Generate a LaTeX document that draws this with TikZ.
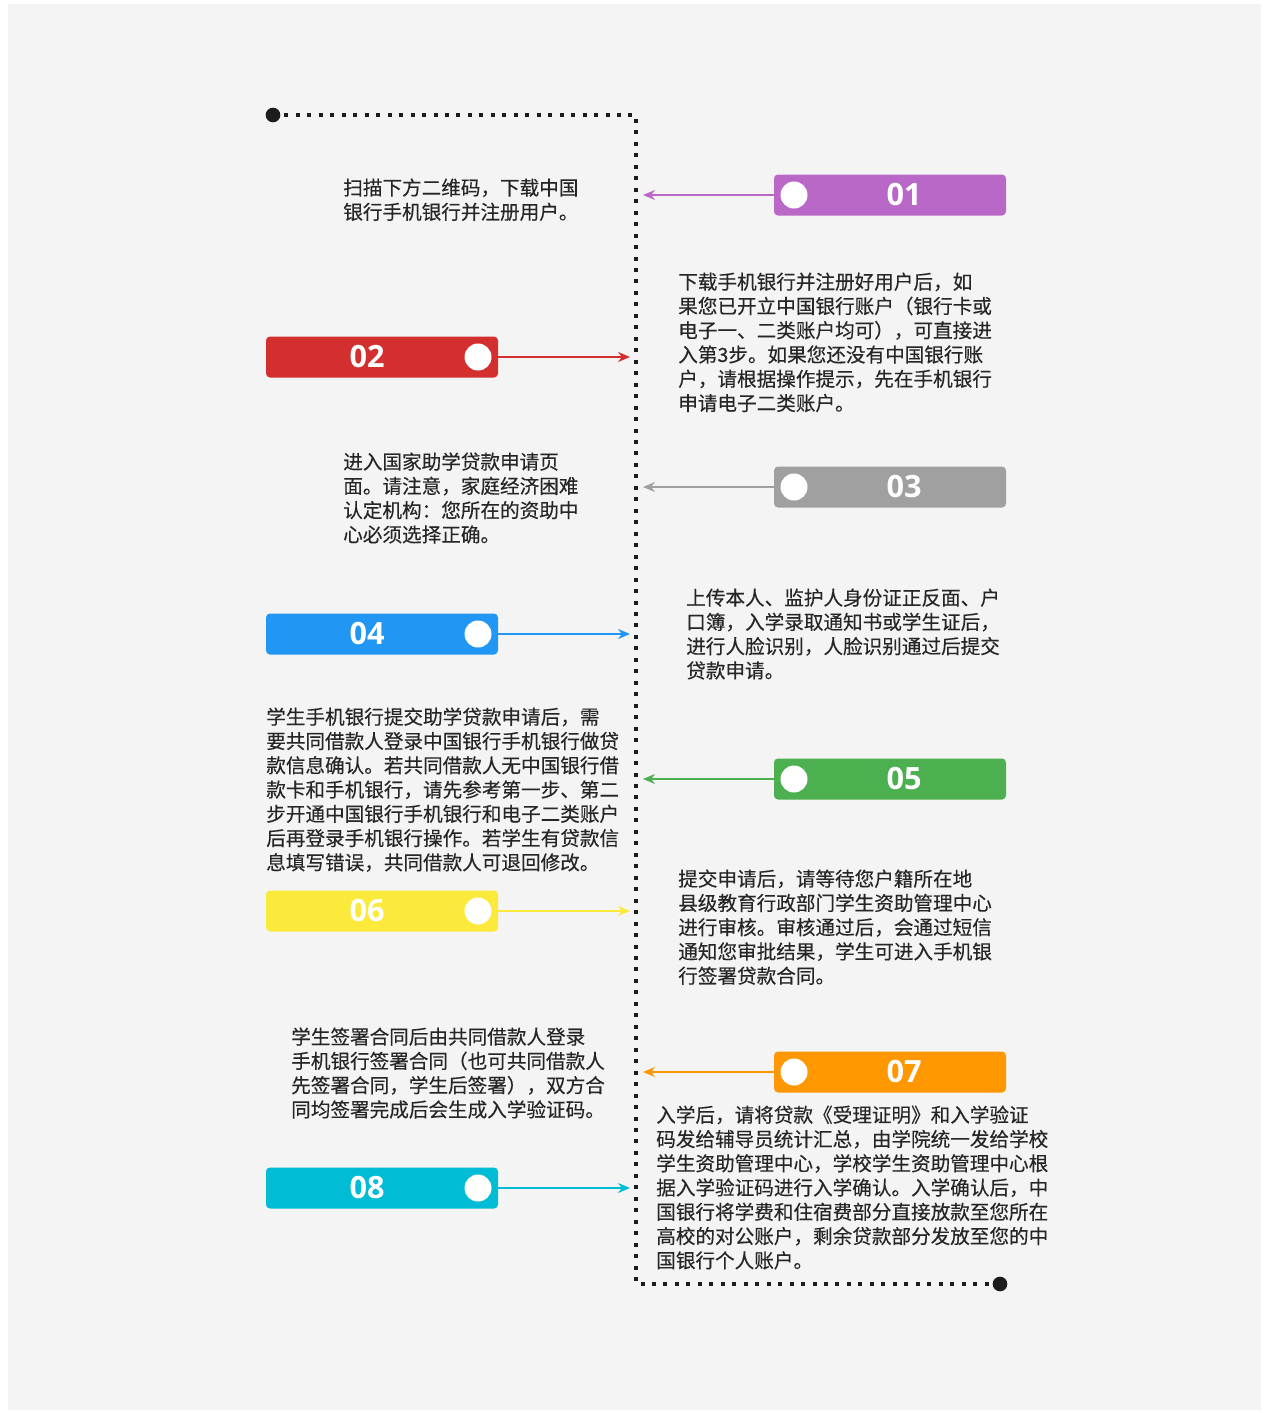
\documentclass[tikz,border=0pt]{standalone}
\usepackage{fontspec}
\newfontfamily\cjk[FakeBold=0.3]{Noto Sans CJK SC}
\newfontfamily\numf{Open Sans}
\usetikzlibrary{arrows.meta}
\definecolor{bgc}{HTML}{F4F4F4}
\definecolor{trackc}{HTML}{1C1C1C}
\definecolor{txtc}{HTML}{262626}
\definecolor{cA}{HTML}{BA68C8}
\definecolor{cB}{HTML}{D32F2F}
\definecolor{cC}{HTML}{A0A0A0}
\definecolor{cD}{HTML}{2196F3}
\definecolor{cE}{HTML}{4CAF50}
\definecolor{cF}{HTML}{FBEA3B}
\definecolor{cG}{HTML}{FF9800}
\definecolor{cH}{HTML}{00BCD4}
\begin{document}
\begin{tikzpicture}[x=0.75pt,y=-0.75pt,
  badge/.style={rectangle, rounded corners=3pt, minimum width=174pt, minimum height=30.75pt, inner sep=0pt, fill=#1},
  dotc/.style={circle, fill=white, minimum size=20.25pt, inner sep=0pt},
  num/.style={text=white, font=\numf\bfseries\fontsize{23}{23}\selectfont, inner sep=0pt},
  desc/.style={anchor=base west, align=left, inner sep=0pt, text=txtc, font=\cjk\fontsize{14.7}{18.2}\selectfont},
  conn/.style={draw=#1, line width=1.1pt, -{Stealth[length=9pt,width=7.5pt]}},
  track/.style={draw=trackc, line width=3pt, dash pattern=on 3pt off 5.6pt},
  enddot/.style={circle, fill=trackc, minimum size=11pt, inner sep=0pt}]
\useasboundingbox (0,0) rectangle (1267,1413);
\fill[white] (0,0) rectangle (1267,1413);
\fill[bgc] (8,4) rectangle (1261,1410);

% track
\node[enddot] (s) at (273,115) {};
\node[enddot] (e) at (1000,1284) {};
\coordinate (k1) at (636,115);
\coordinate (k2) at (636,1284);
\draw[track] (s.center) -- (k1) -- (k2) -- (e.center);

% arrow tips on track
\coordinate (p1) at (643,195);
\coordinate (p2) at (630,357);
\coordinate (p3) at (643,487);
\coordinate (p4) at (630,634);
\coordinate (p5) at (643,779);
\coordinate (p6) at (630,911);
\coordinate (p7) at (643,1072);
\coordinate (p8) at (630,1188);

% badges
\node[badge=cA] (b1) at (890,195) {};
\node[badge=cB] (b2) at (382,357) {};
\node[badge=cC] (b3) at (890,487) {};
\node[badge=cD] (b4) at (382,634) {};
\node[badge=cE] (b5) at (890,779) {};
\node[badge=cF] (b6) at (382,911) {};
\node[badge=cG] (b7) at (890,1072) {};
\node[badge=cH] (b8) at (382,1188) {};

\node[dotc] (c1) at (794,195) {};
\node[dotc] (c2) at (478,357) {};
\node[dotc] (c3) at (794,487) {};
\node[dotc] (c4) at (478,634) {};
\node[dotc] (c5) at (794,779) {};
\node[dotc] (c6) at (478,911) {};
\node[dotc] (c7) at (794,1072) {};
\node[dotc] (c8) at (478,1188) {};

\node[num] (n1) at (904,195) {01};
\node[num] (n2) at (367,357) {02};
\node[num] (n3) at (904,487) {03};
\node[num] (n4) at (367,634) {04};
\node[num] (n5) at (904,779) {05};
\node[num] (n6) at (367,911) {06};
\node[num] (n7) at (904,1072) {07};
\node[num] (n8) at (367,1188) {08};

% connectors
\draw[conn=cA] (b1.west) -- (p1);
\draw[conn=cB] (b2.east) -- (p2);
\draw[conn=cC] (b3.west) -- (p3);
\draw[conn=cD] (b4.east) -- (p4);
\draw[conn=cE] (b5.west) -- (p5);
\draw[conn=cF] (b6.east) -- (p6);
\draw[conn=cG] (b7.west) -- (p7);
\draw[conn=cH] (b8.east) -- (p8);

% texts (anchor = baseline of last line)
\node[desc] (t1) at (343,219.3) {扫描下方二维码，下载中国\\银行手机银行并注册用户。};
\node[desc] (t2) at (678,410.5) {下载手机银行并注册好用户后，如\\果您已开立中国银行账户（银行卡或\\电子一、二类账户均可），可直接进\\入第3步。如果您还没有中国银行账\\户，请根据操作提示，先在手机银行\\申请电子二类账户。};
\node[desc] (t3) at (343,541.9) {进入国家助学贷款申请页\\面。请注意，家庭经济困难\\认定机构：您所在的资助中\\心必须选择正确。};
\node[desc] (t4) at (686,677.9) {上传本人、监护人身份证正反面、户\\口簿，入学录取通知书或学生证后，\\进行人脸识别，人脸识别通过后提交\\贷款申请。};
\node[desc] (t5) at (266,869.8) {学生手机银行提交助学贷款申请后，需\\要共同借款人登录中国银行手机银行做贷\\款信息确认。若共同借款人无中国银行借\\款卡和手机银行，请先参考第一步、第二\\步开通中国银行手机银行和电子二类账户\\后再登录手机银行操作。若学生有贷款信\\息填写错误，共同借款人可退回修改。};
\node[desc] (t6) at (678,983.2) {提交申请后，请等待您户籍所在地\\县级教育行政部门学生资助管理中心\\进行审核。审核通过后，会通过短信\\通知您审批结果，学生可进入手机银\\行签署贷款合同。};
\node[desc] (t7) at (291,1116.9) {学生签署合同后由共同借款人登录\\手机银行签署合同（也可共同借款人\\先签署合同，学生后签署），双方合\\同均签署完成后会生成入学验证码。};
\node[desc] (t8) at (656,1267.8) {入学后，请将贷款《受理证明》和入学验证\\码发给辅导员统计汇总，由学院统一发给学校\\学生资助管理中心，学校学生资助管理中心根\\据入学验证码进行入学确认。入学确认后，中\\国银行将学费和住宿费部分直接放款至您所在\\高校的对公账户，剩余贷款部分发放至您的中\\国银行个人账户。};
\end{tikzpicture}
\end{document}
